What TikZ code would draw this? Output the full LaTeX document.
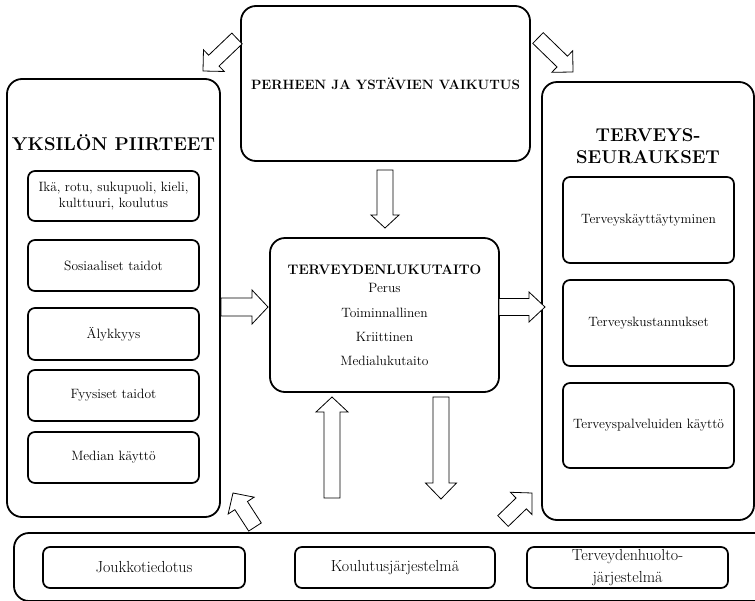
\documentclass[tikz,border=0pt]{standalone}
\usepackage{fontspec}
\usetikzlibrary{calc}

\tikzset{
  bigbox/.style={draw, line width=1.8pt, rounded corners=15pt, inner sep=0pt},
  smallbox/.style={draw, line width=1.7pt, rounded corners=7pt, inner sep=0pt, align=center},
  blockarrow/.style={draw, line width=0.8pt, fill=white, line join=miter},
  body/.style={font=\fontsize{13.5}{16}\selectfont, align=center},
  bodybig/.style={font=\fontsize{16}{22}\selectfont, align=center},
  title/.style={font=\bfseries\fontsize{18.5}{22}\selectfont, align=center},
  midtitle/.style={font=\bfseries\fontsize{13.8}{15}\selectfont, align=center},
}

% block arrow: #1 tail centre, #2 tip, #3 half shaft width, #4 half head width, #5 head length
\newcommand{\blockarr}[5]{%
  \coordinate (hb) at ($(#2)!#5!(#1)$);
  \draw[blockarrow] ($(#1)!#3!90:(#2)$) -- ($(hb)!#3!90:(#2)$) -- ($(hb)!#4!90:(#2)$)
    -- (#2) -- ($(hb)!#4!-90:(#2)$) -- ($(hb)!#3!-90:(#2)$) -- ($(#1)!#3!-90:(#2)$) -- cycle;
}

\begin{document}
\begin{tikzpicture}[x=1pt, y=-1pt]
  \clip (0,0) rectangle (755,600);
  \fill[white] (0,0) rectangle (755,600);

  % family and friends
  \node[bigbox, minimum width=289pt, minimum height=155pt, font=\bfseries\fontsize{13.5}{15}\selectfont]
    (family) at (385.5,83.5) {PERHEEN JA YSTÄVIEN VAIKUTUS};

  % individual characteristics
  \node[bigbox, minimum width=213pt, minimum height=438pt] (indiv) at (113.5,298) {};
  \node[title] (indivT) at (113.5,143) {YKSILÖN PIIRTEET};
  \node[smallbox, body, minimum width=171pt, minimum height=50pt] (age) at (113.5,196)
    {Ikä, rotu, sukupuoli, kieli,\\kulttuuri, koulutus};
  \node[smallbox, body, minimum width=171pt, minimum height=51pt] (social) at (113.5,265.5) {Sosiaaliset taidot};
  \node[smallbox, body, minimum width=171pt, minimum height=52pt] (intel) at (113.5,334) {Älykkyys};
  \node[smallbox, body, minimum width=171pt, minimum height=51pt] (phys) at (113.5,395.5) {Fyysiset taidot};
  \node[smallbox, body, minimum width=171pt, minimum height=51pt] (media) at (113.5,457.5) {Median käyttö};

  % health outcomes
  \node[bigbox, minimum width=212pt, minimum height=438pt] (outc) at (648,301) {};
  \node[title] (outcT) at (648,146) {TERVEYS-\\SEURAUKSET};
  \node[smallbox, body, minimum width=171pt, minimum height=86pt] (behav) at (648.5,220) {Terveyskäyttäytyminen};
  \node[smallbox, body, minimum width=171pt, minimum height=86pt] (costs) at (648.5,323) {Terveyskustannukset};
  \node[smallbox, body, minimum width=171pt, minimum height=85pt] (serv) at (648.5,425.5) {Terveyspalveluiden käyttö};

  % health literacy
  \node[bigbox, minimum width=229pt, minimum height=154pt] (lit) at (384.5,315) {};
  \node[midtitle] (litT) at (384.5,270) {TERVEYDENLUKUTAITO};
  \node[body] (lit1) at (384.5,288) {Perus};
  \node[body] (lit2) at (384.5,313) {Toiminnallinen};
  \node[body] (lit3) at (384.5,337) {Kriittinen};
  \node[body] (lit4) at (384.5,361) {Medialukutaito};

  % societal systems
  \node[draw, line width=1.8pt, rounded corners=15pt, minimum width=761pt, minimum height=68pt, inner sep=0pt]
    (soc) at (394.5,567) {};
  \node[smallbox, bodybig, minimum width=202pt, minimum height=41pt] (mass) at (144,567.5) {Joukkotiedotus};
  \node[smallbox, bodybig, minimum width=200pt, minimum height=41pt] (edu) at (395,567.5) {Koulutusjärjestelmä};
  \node[smallbox, minimum width=201pt, minimum height=41pt] (hc) at (627.5,567.5) {};
  \node[bodybig] (hcT) at (627.5,568) {Terveydenhuolto-\\järjestelmä};

  % arrow end points
  \coordinate (aTLs) at (237,38.5);  \coordinate (aTLe) at (203,71);
  \coordinate (aTRs) at (538,38);    \coordinate (aTRe) at (573,72);
  \coordinate (aDs)  at (385,170);   \coordinate (aDe)  at (385,228);
  \coordinate (aLs)  at (221,307);   \coordinate (aLe)  at (268,307);
  \coordinate (aRs)  at (499,307);   \coordinate (aRe)  at (545,307);
  \coordinate (aUs)  at (332,498);   \coordinate (aUe)  at (332,397);
  \coordinate (aBs)  at (441,397);   \coordinate (aBe)  at (441,499);
  \coordinate (aBLs) at (255,527);   \coordinate (aBLe) at (233,493);
  \coordinate (aBRs) at (503,521);   \coordinate (aBRe) at (532,493);

  \blockarr{aTLs}{aTLe}{7.5pt}{15pt}{15pt}
  \blockarr{aTRs}{aTRe}{7.5pt}{15pt}{15pt}
  \blockarr{aDs}{aDe}{8pt}{14pt}{13pt}
  \blockarr{aLs}{aLe}{9pt}{17pt}{16pt}
  \blockarr{aRs}{aRe}{8.5pt}{15pt}{16pt}
  \blockarr{aUs}{aUe}{8pt}{16pt}{15pt}
  \blockarr{aBs}{aBe}{8pt}{15.5pt}{16pt}
  \blockarr{aBLs}{aBLe}{7.5pt}{15.5pt}{15pt}
  \blockarr{aBRs}{aBRe}{7.5pt}{15.5pt}{15pt}
\end{tikzpicture}
\end{document}
